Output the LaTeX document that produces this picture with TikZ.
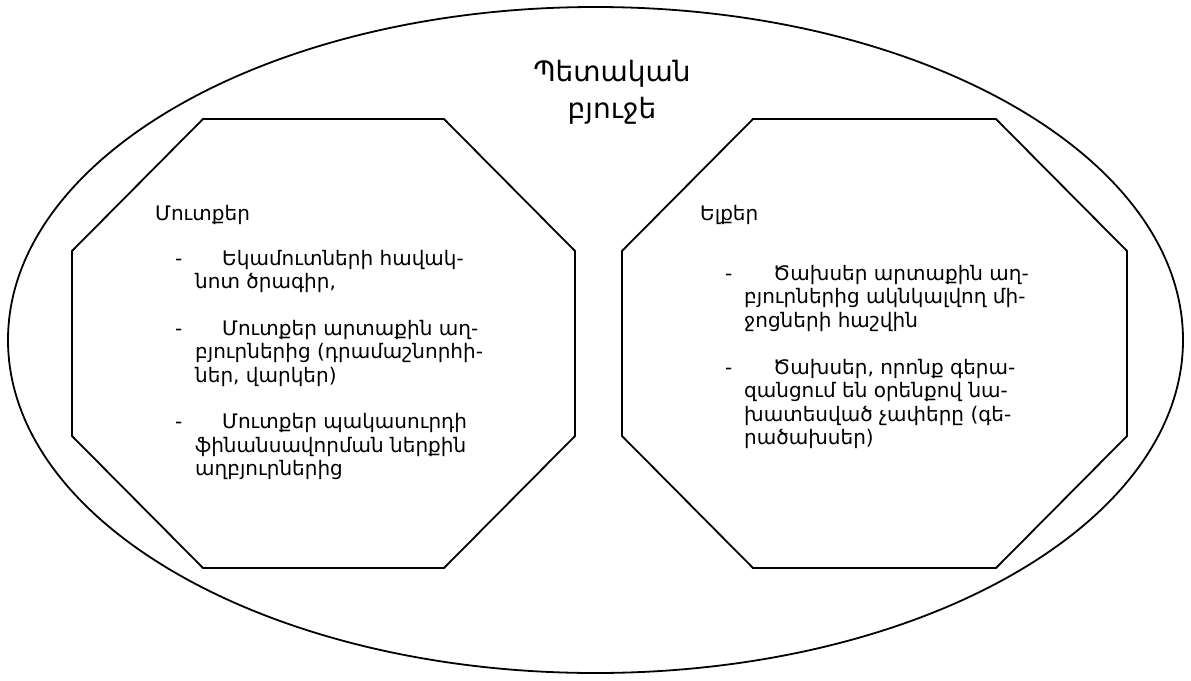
\documentclass[tikz,border=0pt]{standalone}
\usepackage{fontspec}
\usetikzlibrary{shapes.geometric}
\setmainfont{DejaVu Sans}
\begin{document}
\begin{tikzpicture}[x=1pt,y=-1pt,
  outline/.style={draw=black,line width=1.8pt},
  bodytext/.style={anchor=base west,inner sep=0pt,font=\fontsize{20}{23}\selectfont},
  titletext/.style={anchor=base,inner sep=0pt,font=\fontsize{28}{32}\selectfont},
  dashmark/.style={anchor=base west,inner sep=0pt,font=\fontsize{20}{23}\selectfont}]
\useasboundingbox (0,0) rectangle (1191,680);
% outer ellipse: the state budget
\node[outline,ellipse,minimum width=1175pt,minimum height=666pt,inner sep=0pt] (budget) at (595.5,340) {};
% octagons for revenues and expenditures
\draw[outline] (203,119) -- (444,119) -- (575,251) -- (575,436) -- (444,568) -- (203,568) -- (72,436) -- (72,251) -- cycle;
\draw[outline] (753,119) -- (996,119) -- (1127,251) -- (1127,436) -- (996,568) -- (753,568) -- (622,436) -- (622,251) -- cycle;
% title
\node[titletext] (t1) at (612,81) {Պետական};
\node[titletext] (t2) at (612,118) {բյուջե};
% revenues
\node[bodytext] (in) at (155,220) {Մուտքեր};
\node[dashmark] (d1) at (175,265) {-};
\node[bodytext] (a1) at (222,265) {Եկամուտների հավակ-};
\node[bodytext] (a2) at (195,288.5) {նոտ ծրագիր,};
\node[dashmark] (d2) at (175,335) {-};
\node[bodytext] (b1) at (222,335) {Մուտքեր արտաքին աղ-};
\node[bodytext] (b2) at (195,358.5) {բյուրներից (դրամաշնորհի-};
\node[bodytext] (b3) at (195,382) {ներ, վարկեր)};
\node[dashmark] (d3) at (175,428.5) {-};
\node[bodytext] (c1) at (222,428.5) {Մուտքեր պակասուրդի};
\node[bodytext] (c2) at (195,452) {ֆինանսավորման ներքին};
\node[bodytext] (c3) at (195,475.5) {աղբյուրներից};
% expenditures
\node[bodytext] (out) at (700,220) {Ելքեր};
\node[dashmark] (d4) at (725,280) {-};
\node[bodytext] (e1) at (773,280) {Ծախսեր արտաքին աղ-};
\node[bodytext] (e2) at (744,303.5) {բյուրներից ակնկալվող մի-};
\node[bodytext] (e3) at (744,327) {ջոցների հաշվին};
\node[dashmark] (d5) at (725,374) {-};
\node[bodytext] (f1) at (773,374) {Ծախսեր, որոնք գերա-};
\node[bodytext] (f2) at (744,397.5) {զանցում են օրենքով նա-};
\node[bodytext] (f3) at (744,421) {խատեսված չափերը  (գե-};
\node[bodytext] (f4) at (744,444.5) {րածախսեր)};
\end{tikzpicture}
\end{document}
